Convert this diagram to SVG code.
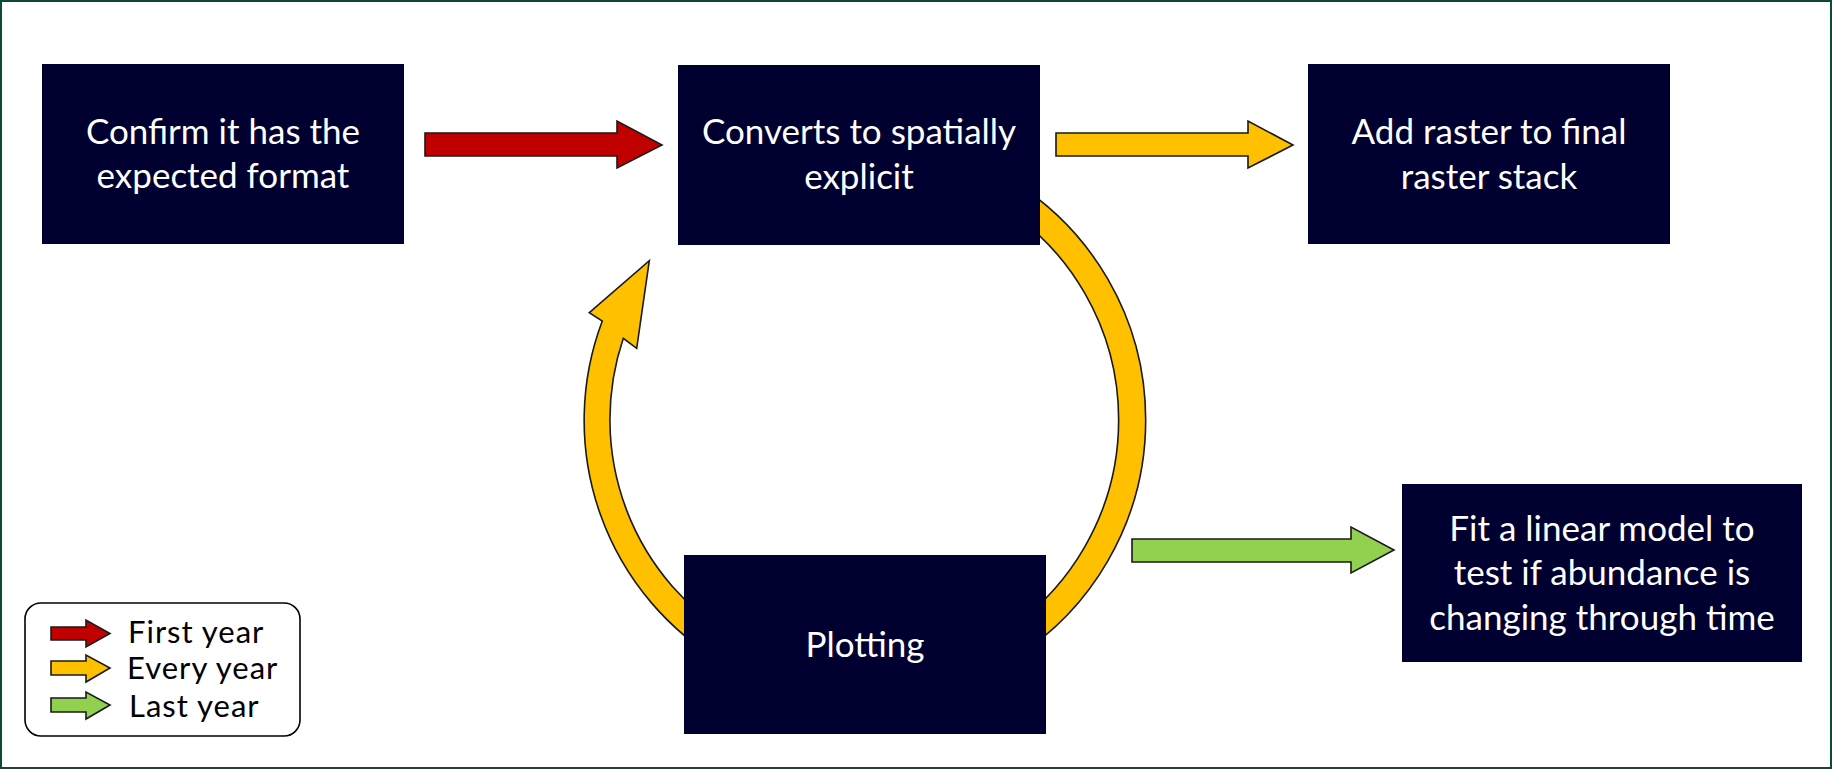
<svg xmlns="http://www.w3.org/2000/svg" width="1832" height="769" viewBox="0 0 1832 769">
<style>
.box{fill:#000030}
.nt{fill:#ffffff;font-family:Lato,"Open Sans","Liberation Sans",sans-serif;font-size:35px;text-anchor:middle}
.lt{fill:#000000;font-family:Lato,"Open Sans","Liberation Sans",sans-serif;font-size:31px;letter-spacing:1px}
.arr{stroke:#1a1a1a;stroke-width:1.6;stroke-linejoin:miter}
.red{fill:#C00000}
.yel{fill:#FFC000}
.grn{fill:#92D050}
</style>
<rect x="0" y="0" width="1832" height="769" fill="#ffffff"/>
<rect x="1" y="1" width="1830" height="767" fill="none" stroke="#0B4A3A" stroke-width="2"/>
<g id="connectors">
  <path class="arr yel" d="M1005.1,176.6 A281,281 0 0 1 1005.1,663.4 L991.6,640 A254,254 0 0 0 991.6,200 Z"/>
  <path class="arr yel" d="M724.1,663.4 A281,281 0 0 1 602.3,321 L589.3,312.7 L649.3,260.7 L636.7,348.3 L623.3,338.3 A254,254 0 0 0 737.6,640 Z"/>
  <polygon class="arr red" points="425,133 617,133 617,121 662,145 617,168 617,156 425,156"/>
  <polygon class="arr yel" points="1056,133 1248,133 1248,121 1293,145 1248,168 1248,156 1056,156"/>
  <polygon class="arr grn" points="1132,539 1351,539 1351,527 1394,550 1351,573 1351,562 1132,562"/>
</g>
<g id="node-confirm">
  <rect class="box" x="42" y="64" width="362" height="180"/>
  <text class="nt" x="223" y="144">Confirm it has the</text>
  <text class="nt" x="223" y="188">expected format</text>
</g>
<g id="node-convert">
  <rect class="box" x="678" y="65" width="362" height="180"/>
  <text class="nt" x="859" y="144">Converts to spatially</text>
  <text class="nt" x="859" y="189">explicit</text>
</g>
<g id="node-add">
  <rect class="box" x="1308" y="64" width="362" height="180"/>
  <text class="nt" x="1489" y="144">Add raster to final</text>
  <text class="nt" x="1489" y="189">raster stack</text>
</g>
<g id="node-plotting">
  <rect class="box" x="684" y="555" width="362" height="179"/>
  <text class="nt" x="865" y="657">Plotting</text>
</g>
<g id="node-fit">
  <rect class="box" x="1402" y="484" width="400" height="178"/>
  <text class="nt" x="1602" y="541">Fit a linear model to</text>
  <text class="nt" x="1602" y="585">test if abundance is</text>
  <text class="nt" x="1602" y="630">changing through time</text>
</g>
<g id="legend">
  <rect x="25" y="603" width="275" height="133" rx="16" fill="#ffffff" stroke="#000000" stroke-width="1.6"/>
  <polygon class="arr red" points="51,627 86,627 86,620 110,633.5 86,647 86,640 51,640"/>
  <polygon class="arr yel" points="51,661 86,661 86,655 110,668 86,682 86,675 51,675"/>
  <polygon class="arr grn" points="51,698 86,698 86,692 110,705 86,719 86,712 51,712"/>
  <text class="lt" x="128" y="643">First year</text>
  <text class="lt" x="127" y="679">Every year</text>
  <text class="lt" x="129" y="717">Last year</text>
</g>
</svg>
